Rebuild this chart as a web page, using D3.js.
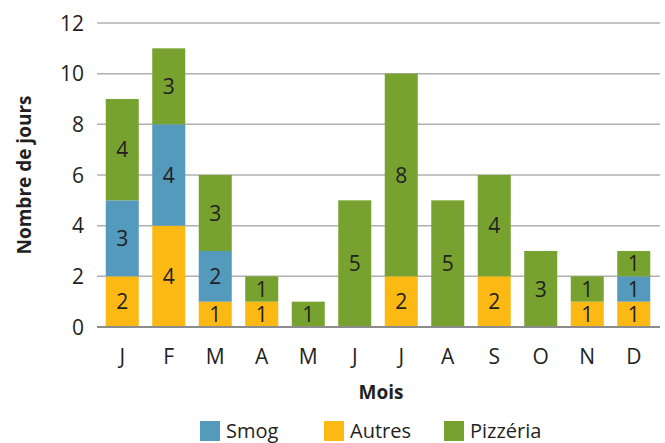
<!DOCTYPE html>
<html>
<head>
<meta charset="utf-8">
<script src="https://cdn.jsdelivr.net/npm/d3@7"></script>
<style>
  body { margin: 0; background: #fff; }
  text { font-family: "Open Sans", "Noto Sans", sans-serif; fill: #231f20; }
</style>
</head>
<body>
<script>
var svgWidth = 665;
var svgHeight = 443;

// data
var months = ["J", "F", "M", "A", "M", "J", "J", "A", "S", "O", "N", "D"];
var autres = [2, 4, 1, 1, 0, 0, 2, 0, 2, 0, 1, 1];
var smog = [3, 4, 2, 0, 0, 0, 0, 0, 0, 0, 0, 1];
var pizzeria = [4, 3, 3, 1, 1, 5, 8, 5, 4, 3, 1, 1];
var yTicks = [0, 2, 4, 6, 8, 10, 12];

var seriesNames = ["autres", "smog", "pizzeria"];
var colors = { smog: "#549abd", autres: "#fdb913", pizzeria: "#78a22f" };
var legendItems = [
  { key: "smog", label: "Smog" },
  { key: "autres", label: "Autres" },
  { key: "pizzeria", label: "Pizzéria" }
];

var table = months.map(function(m, i) {
  return { idx: i, month: m, autres: autres[i], smog: smog[i], pizzeria: pizzeria[i] };
});

var svg = d3.select("body").append("svg")
  .attr("width", svgWidth)
  .attr("height", svgHeight);

var x = d3.scaleBand()
  .domain(d3.range(months.length))
  .range([99, 657])
  .paddingInner(0.29)
  .paddingOuter(0.145);

var y = d3.scaleLinear().domain([0, 12]).range([327, 23]);

// gridlines
svg.append("g")
  .selectAll("line")
  .data(yTicks.filter(d => d > 0))
  .enter()
  .append("line")
  .attr("x1", 97)
  .attr("x2", 660)
  .attr("y1", d => y(d))
  .attr("y2", d => y(d))
  .attr("stroke", "#b0b0b0")
  .attr("stroke-width", 1.5);

// y tick labels
svg.append("g")
  .selectAll("text")
  .data(yTicks)
  .enter()
  .append("text")
  .attr("x", 84)
  .attr("y", d => y(d))
  .attr("dy", "0.36em")
  .attr("text-anchor", "end")
  .style("font-size", "21px")
  .text(d => d);

var stack = d3.stack().keys(seriesNames);
var stacked = stack(table);

var layers = svg.append("g")
  .selectAll("g")
  .data(stacked)
  .enter()
  .append("g")
  .attr("fill", d => colors[d.key]);

layers.selectAll("rect")
  .data(d => d.filter(s => s[1] - s[0] > 0))
  .enter()
  .append("rect")
  .attr("x", d => x(d.data.idx))
  .attr("width", x.bandwidth())
  .attr("y", d => y(d[1]))
  .attr("height", d => y(d[0]) - y(d[1]));

layers.selectAll("text")
  .data(d => d.filter(s => s[1] - s[0] > 0))
  .enter()
  .append("text")
  .attr("x", d => x(d.data.idx) + x.bandwidth() / 2)
  .attr("y", d => (y(d[0]) + y(d[1])) / 2)
  .attr("dy", "0.36em")
  .attr("text-anchor", "middle")
  .style("font-size", "21px")
  .text(d => d[1] - d[0]);

// baseline
svg.append("line")
  .attr("x1", 97)
  .attr("x2", 660)
  .attr("y1", y(0))
  .attr("y2", y(0))
  .attr("stroke", "#8c8c8c")
  .attr("stroke-width", 2);

// month labels
svg.append("g")
  .selectAll("text")
  .data(table)
  .enter()
  .append("text")
  .attr("x", d => x(d.idx) + x.bandwidth() / 2)
  .attr("y", 356)
  .attr("dy", "0.36em")
  .attr("text-anchor", "middle")
  .style("font-size", "21px")
  .text(d => d.month);

// axis titles
svg.append("text")
  .attr("x", 381)
  .attr("y", 399)
  .attr("text-anchor", "middle")
  .style("font-size", "19px")
  .style("font-weight", "bold")
  .text("Mois");

svg.append("text")
  .attr("transform", "translate(31, 175) rotate(-90)")
  .attr("text-anchor", "middle")
  .style("font-size", "19px")
  .style("font-weight", "bold")
  .text("Nombre de jours");

// legend
var legendX = [200, 324, 444];
var legend = svg.append("g")
  .selectAll("g")
  .data(legendItems)
  .enter()
  .append("g")
  .attr("transform", (d, i) => `translate(${legendX[i]}, 421)`);

legend.append("rect")
  .attr("width", 20)
  .attr("height", 20)
  .attr("fill", d => colors[d.key]);

legend.append("text")
  .attr("x", 26)
  .attr("y", 10)
  .attr("dy", "0.36em")
  .style("font-size", "20px")
  .text(d => d.label);
</script>
</body>
</html>
